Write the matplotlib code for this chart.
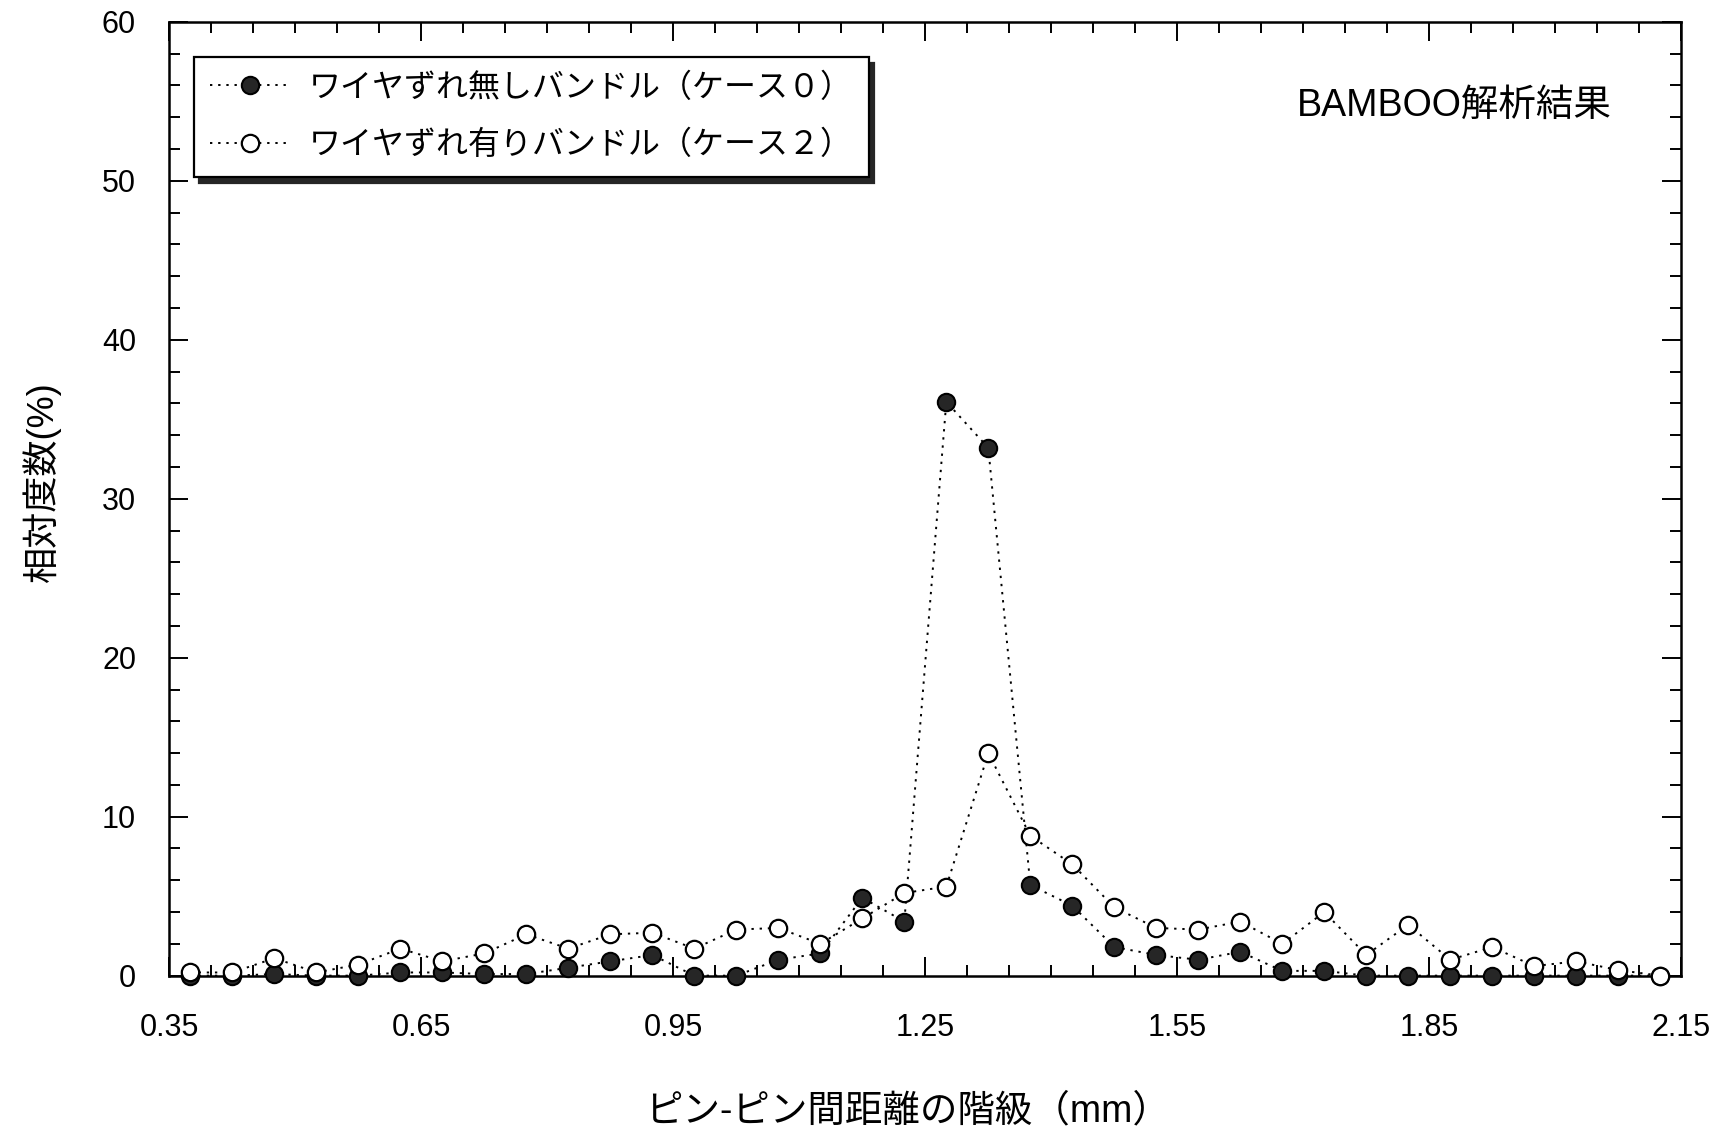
import matplotlib
matplotlib.use("Agg")
import matplotlib.pyplot as plt
from matplotlib.ticker import FixedLocator, MultipleLocator, FormatStrFormatter

plt.rcParams['font.family'] = ['Liberation Sans', 'Noto Sans CJK JP', 'DejaVu Sans']

# class midpoints (mm)
pitch = [0.375, 0.425, 0.475, 0.525, 0.575, 0.625, 0.675, 0.725, 0.775, 0.825,
         0.875, 0.925, 0.975, 1.025, 1.075, 1.125, 1.175, 1.225, 1.275, 1.325,
         1.375, 1.425, 1.475, 1.525, 1.575, 1.625, 1.675, 1.725, 1.775, 1.825,
         1.875, 1.925, 1.975, 2.025, 2.075, 2.125]

# case 0: no wire shift
case0 = [0.0, 0.0, 0.1, 0.0, 0.0, 0.2, 0.2, 0.1, 0.1, 0.5,
         0.9, 1.3, 0.0, 0.0, 1.0, 1.4, 4.9, 3.4, 36.1, 33.2,
         5.7, 4.4, 1.8, 1.3, 1.0, 1.5, 0.3, 0.3, 0.0, 0.0,
         0.0, 0.0, 0.0, 0.0, 0.0, 0.0]

# case 2: with wire shift
case2 = [0.2, 0.2, 1.1, 0.2, 0.7, 1.7, 0.9, 1.4, 2.6, 1.7,
         2.6, 2.7, 1.7, 2.9, 3.0, 2.0, 3.6, 5.2, 5.6, 14.0,
         8.8, 7.0, 4.3, 3.0, 2.9, 3.4, 2.0, 4.0, 1.3, 3.2,
         1.0, 1.8, 0.6, 0.9, 0.35, 0.0]

xticks = [0.35, 0.65, 0.95, 1.25, 1.55, 1.85, 2.15]

label0 = "ワイヤずれ無しバンドル（ケース０）"
label2 = "ワイヤずれ有りバンドル（ケース２）"

fig = plt.figure(figsize=(17.15, 11.35), dpi=100)
ax = fig.add_axes([0.0988, 0.1404, 0.8815, 0.8403])

dots = (0, (1.2, 3.0))
ax.plot(pitch, case0, linestyle=dots, color='black', linewidth=1.4,
        marker='o', markersize=12.5, markerfacecolor='#262626',
        markeredgecolor='black', markeredgewidth=1.5, clip_on=False,
        label=label0, zorder=3)
ax.plot(pitch, case2, linestyle=dots, color='black', linewidth=1.4,
        marker='o', markersize=12.5, markerfacecolor='white',
        markeredgecolor='black', markeredgewidth=1.6, clip_on=False,
        label=label2, zorder=4)

ax.set_xlim(0.35, 2.15)
ax.set_ylim(0, 60)
ax.xaxis.set_major_locator(FixedLocator(xticks))
ax.xaxis.set_minor_locator(MultipleLocator(0.05))
ax.xaxis.set_major_formatter(FormatStrFormatter('%.2f'))
ax.yaxis.set_major_locator(MultipleLocator(10))
ax.yaxis.set_minor_locator(MultipleLocator(2))

ax.tick_params(which='both', direction='in', top=True, right=True,
               width=1.4, colors='black')
ax.tick_params(which='major', length=14)
ax.tick_params(which='minor', length=8)
ax.tick_params(axis='x', which='major', pad=27, labelsize=22)
ax.tick_params(axis='y', which='major', pad=24, labelsize=22)

for s in ax.spines.values():
    s.set_linewidth(1.8)

ax.text(0.85, 0.912, "BAMBOO解析結果", transform=ax.transAxes,
        ha='center', va='center', fontsize=27)

fig.text(0.529, 0.021, "ピン-ピン間距離の階級（mm）", ha='center', va='center',
         fontsize=27)
fig.text(0.0245, 0.576, "相対度数(%)", ha='center', va='center',
         rotation=90, fontsize=26)

leg = ax.legend(loc='upper left', bbox_to_anchor=(0.016, 0.963),
                borderaxespad=0, fontsize=23, numpoints=1,
                handlelength=2.5, handletextpad=0.6, labelspacing=0.85,
                borderpad=0.5, fancybox=False, framealpha=1,
                edgecolor='black',
                shadow={'ox': 4, 'oy': -4, 'shade': 0.85, 'alpha': 1})
leg.get_frame().set_linewidth(1.6)

fig.savefig("out.png", dpi=100)
